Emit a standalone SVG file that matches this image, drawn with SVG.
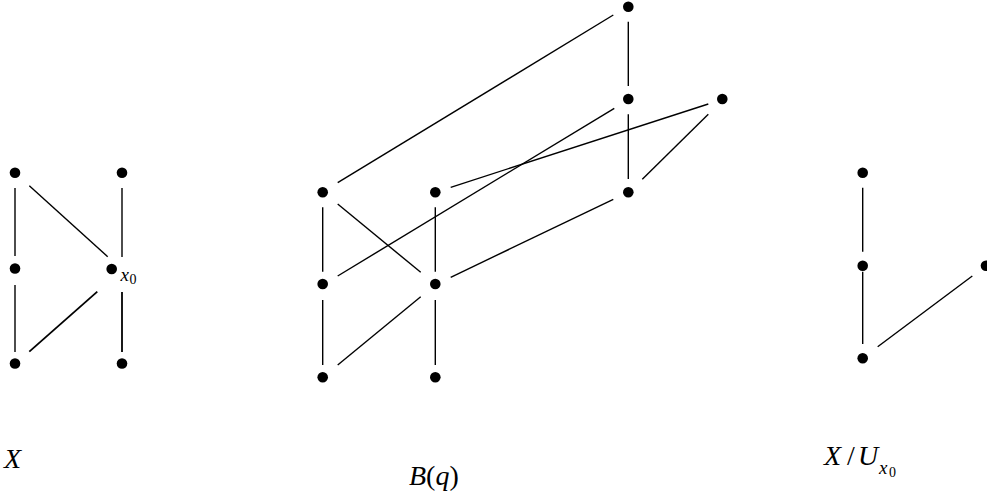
<svg xmlns="http://www.w3.org/2000/svg" width="987" height="496" viewBox="0 0 987 496">
<style>
.d{fill:#000}
.e line{stroke:#000;stroke-width:1.4;fill:none}
.t{font-family:"Liberation Serif","Times New Roman",serif;font-style:italic;fill:#000}
.n{font-family:"Liberation Serif","Times New Roman",serif;fill:#000}
</style>
<rect width="987" height="496" fill="#fff"/>
<g id="connectors" class="e">
<!-- X -->
<line x1="15" y1="188" x2="15" y2="256"/>
<line x1="15" y1="285" x2="15" y2="352"/>
<line x1="29.3" y1="185.7" x2="107.7" y2="256.7"/>
<line x1="122" y1="188" x2="122" y2="257"/>
<line x1="122" y1="292" x2="122" y2="352" style="stroke-width:1.8"/>
<line x1="29.3" y1="351.7" x2="97.3" y2="291.7" style="stroke-width:1.8"/>
<!-- B(q) -->
<line x1="613.3" y1="15" x2="337.7" y2="182.7"/>
<line x1="628.3" y1="21.7" x2="628.3" y2="86"/>
<line x1="628.3" y1="114.3" x2="628.3" y2="179"/>
<line x1="614.3" y1="108.3" x2="337.7" y2="276"/>
<line x1="708.3" y1="104" x2="450.7" y2="187.3"/>
<line x1="708.3" y1="114.3" x2="642.3" y2="179.3"/>
<line x1="613.3" y1="199.3" x2="450.7" y2="277.3"/>
<line x1="337.7" y1="204" x2="420.7" y2="272.3"/>
<line x1="322.7" y1="207.3" x2="322.7" y2="271.7"/>
<line x1="322.7" y1="300" x2="322.7" y2="365"/>
<line x1="435.3" y1="207.3" x2="435.3" y2="271.7"/>
<line x1="435.3" y1="300" x2="435.3" y2="365"/>
<line x1="337.7" y1="365" x2="420.7" y2="296.7"/>
<!-- X/U -->
<line x1="862.7" y1="187.7" x2="862.7" y2="251.7"/>
<line x1="862.7" y1="271.7" x2="862.7" y2="344"/>
<line x1="877.7" y1="346.7" x2="972.3" y2="276"/>
</g>
<g id="X">
<g id="x_a"><circle class="d" cx="15" cy="172.7" r="5.3"/></g>
<g id="x_b"><circle class="d" cx="122" cy="172.7" r="5.3"/></g>
<g id="x_c"><circle class="d" cx="15" cy="268.5" r="5.3"/></g>
<g id="x_x0"><circle class="d" cx="111.7" cy="269" r="5.3"/>
<text class="t" x="120.5" y="281" font-size="19">x</text><text class="n" x="129.5" y="284" font-size="14">0</text></g>
<g id="x_e"><circle class="d" cx="15" cy="363.5" r="5.3"/></g>
<g id="x_f"><circle class="d" cx="122" cy="363.5" r="5.3"/></g>
<text id="label_X" class="t" x="4" y="468" font-size="28">X</text>
</g>
<g id="Bq">
<g id="b1"><circle class="d" cx="628.3" cy="6.7" r="5.3"/></g>
<g id="b2"><circle class="d" cx="628.3" cy="99" r="5.3"/></g>
<g id="b3"><circle class="d" cx="722.3" cy="99" r="5.3"/></g>
<g id="b4"><circle class="d" cx="628.3" cy="192.3" r="5.3"/></g>
<g id="b5"><circle class="d" cx="322.7" cy="192.3" r="5.3"/></g>
<g id="b6"><circle class="d" cx="435.3" cy="192.3" r="5.3"/></g>
<g id="b7"><circle class="d" cx="322.7" cy="284" r="5.3"/></g>
<g id="b8"><circle class="d" cx="435.3" cy="284" r="5.3"/></g>
<g id="b9"><circle class="d" cx="322.7" cy="377.3" r="5.3"/></g>
<g id="b10"><circle class="d" cx="435.3" cy="377.3" r="5.3"/></g>
<text id="label_Bq" x="409" y="485" font-size="28"><tspan class="t">B</tspan><tspan class="n">(</tspan><tspan class="t">q</tspan><tspan class="n">)</tspan></text>
</g>
<g id="XU">
<g id="u1"><circle class="d" cx="862.7" cy="172.7" r="5.3"/></g>
<g id="u2"><circle class="d" cx="862.7" cy="265.7" r="5.3"/></g>
<g id="u3"><circle class="d" cx="862.7" cy="358.3" r="5.3"/></g>
<g id="u4"><circle class="d" cx="986" cy="265.7" r="5.3"/></g>
<g id="label_XU">
<text class="t" x="824" y="465" font-size="28">X</text>
<text class="n" x="847" y="465" font-size="28">/</text>
<text class="t" x="858" y="465" font-size="28">U</text>
<text class="t" x="879" y="474" font-size="19">x</text>
<text class="n" x="889" y="477" font-size="14">0</text>
</g>
</g>
</svg>
